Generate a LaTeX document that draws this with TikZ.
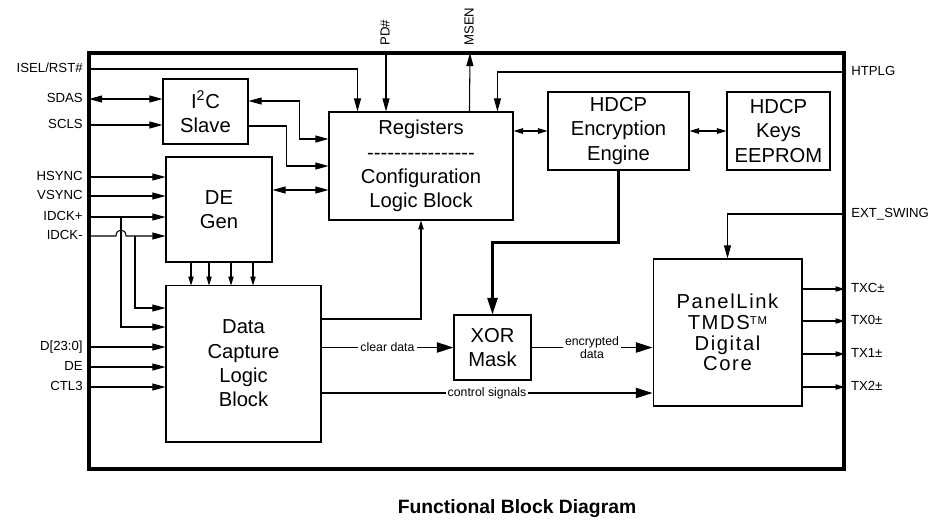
\documentclass[tikz,border=0pt]{standalone}
\usepackage{fontspec}
\setmainfont{Liberation Sans}[Ligatures=TeXOff]
\usetikzlibrary{arrows.meta, positioning}

\begin{document}
\begin{tikzpicture}[x=0.02cm, y=-0.02cm,
        blk/.style = {draw, line width=0.6pt, inner sep=0pt, align=center, font=\fontsize{11.5}{13.8}\selectfont},
        sig/.style = {inner sep=0pt, text height=5.6pt, text depth=1.4pt, font=\fontsize{7.5}{9}\selectfont},
        tag/.style = {fill=white, inner sep=1.2pt, align=center, font=\fontsize{7}{7.6}\selectfont},
        ar/.style  = {-{Triangle[length=7.5pt, width=4pt]}, line width=0.6pt},
        dar/.style = {{Triangle[length=7.5pt, width=4pt]}-{Triangle[length=7.5pt, width=4pt]}, line width=0.6pt},
        sar/.style = {-{Triangle[length=5pt, width=3pt]}, line width=0.6pt},
        dsar/.style = {{Triangle[length=5.5pt, width=3.2pt]}-{Triangle[length=5.5pt, width=3.2pt]}, line width=0.6pt},
        bar/.style = {-{Triangle[length=9.5pt, width=5.8pt]}, line width=1pt}
    ]
        \useasboundingbox (0,0) rectangle (935,522);

        % chip outline
        \node[draw, line width=1.8pt, inner sep=0pt, minimum width=15.1cm, minimum height=8.32cm] (chip) at (466.5,261) {};

        % blocks
        \node[blk, minimum width=1.7cm,  minimum height=1.3cm]  (i2c)  at (205.5,111.5) {I\textsuperscript{2}C\\Slave};
        \node[blk, minimum width=2.12cm, minimum height=2.1cm]  (de)   at (219,209.5)   {DE\\Gen};
        \node[blk, minimum width=3.68cm, minimum height=2.16cm] (reg)  at (421,166)     {Registers\\----------------\\Configuration\\Logic Block};
        \node[blk, minimum width=2.82cm, minimum height=1.56cm] (enc)  at (618.5,131)   {HDCP\\Encryption\\Engine};
        \node[blk, minimum width=2.06cm, minimum height=1.56cm] (keys) at (778.5,131)   {HDCP\\Keys\\EEPROM};
        \node[blk, minimum width=3.1cm,  minimum height=3.14cm] (dc)   at (243.5,363.5) {Data\\Capture\\Logic\\Block};
        \node[blk, minimum width=1.54cm, minimum height=1.3cm]  (xor)  at (492.5,347.5) {XOR\\Mask};
        \node[blk, minimum width=2.98cm, minimum height=2.94cm, font=\fontsize{11.5}{11.8}\selectfont\addfontfeatures{LetterSpace=8}]
            (core) at (727.5,332.5) {PanelLink\\TMDS\raisebox{0.42ex}{\fontsize{6.5}{6.5}\selectfont TM}\\Digital\\Core};

        % left pins
        \foreach \yy/\nm/\txt in {69/ISEL/{ISEL/RST\#}, 99/SDAS/SDAS, 125/SCLS/SCLS, 177/HSYNC/HSYNC, 196/VSYNC/VSYNC,
                217/IDCKp/IDCK+, 236/IDCKm/IDCK-, 347/D/{D[23:0]}, 367/DE/DE, 387/CTL/CTL3} {
            \coordinate (in\nm) at (89,\yy);
            \node[sig, anchor=east] (l\nm) at (83,\yy) {\txt};
        }

        % top and right pins
        \coordinate (inPD)    at (386,53);
        \coordinate (outMSEN) at (470,53);
        \coordinate (inHTPLG) at (844,72);
        \coordinate (inEXT)   at (844,214);
        \node[sig, rotate=90, anchor=west] (lPD)   at (386,46) {PD\#};
        \node[sig, rotate=90, anchor=west] (lMSEN) at (470,46) {MSEN};
        \node[sig, anchor=west] (lHTPLG) at (851,72)  {HTPLG};
        \node[sig, anchor=west] (lEXT)   at (851,214) {EXT\_SWING};

        % into registers
        \draw[ar] (inISEL) -| ([xshift=0.58cm]reg.north west);
        \draw[ar] (inPD) -- (inPD |- reg.north);
        \draw[ar] ([xshift=2.82cm]reg.north west) -- (outMSEN);
        \draw[ar] (inHTPLG) -| ([xshift=3.38cm]reg.north west);

        % I2C
        \draw[dar] (inSDAS) -- (inSDAS -| i2c.west);
        \draw[ar]  (inSCLS) -- (inSCLS -| i2c.west);
        \draw[dar] ([yshift=0.21cm]i2c.east) -- ++(51,0) |- ([yshift=0.54cm]reg.west);
        \draw[ar]  ([yshift=-0.29cm]i2c.east) -- ++(38,0) |- (reg.west);

        % DE gen
        \draw[dar] ([yshift=-0.48cm]reg.west) coordinate (dgr) -- (dgr -| de.east);
        \draw[ar] (inHSYNC) -- (inHSYNC -| de.west);
        \draw[ar] (inVSYNC) -- (inVSYNC -| de.west);
        \draw[ar] (inIDCKp) -- (inIDCKp -| de.west);
        \draw[ar] (inIDCKm) -- (116,236) .. controls (116,228) and (126,228) .. (126,236) -- (inIDCKm -| de.west);
        \coordinate (brP) at (121,217);
        \coordinate (brM) at (135,236);
        \draw[ar] (brP) |- ([yshift=0.73cm]dc.west);
        \draw[ar] (brM) |- ([yshift=1.11cm]dc.west);
        \foreach \dx in {-0.56,-0.2,0.24,0.68}
            \draw[sar] ([xshift=\dx cm]de.south) -- ++(0,23);

        % data capture
        \draw[ar] (inD)   -- (inD -| dc.west);
        \draw[ar] (inDE)  -- (inDE -| dc.west);
        \draw[ar] (inCTL) -- (inCTL -| dc.west);
        \draw[sar] ([yshift=0.89cm]dc.east) -| (reg.south);
        \draw[bar] (xor.west -| dc.east) -- node[tag] {clear data} (xor.west);
        \draw[bar] ([yshift=-0.59cm]dc.east) coordinate (cs) -- node[tag] {control signals} (cs -| core.west);

        % HDCP
        \draw[dsar] (enc.west -| reg.east) -- (enc.west);
        \draw[dsar] (enc.east) -- (keys.west);
        \draw[bar, line width=1.2pt] (enc.south) -- ++(0,72) -| (xor.north);
        \draw[bar] (xor.east) -- node[tag] {encrypted\\data} (xor.east -| core.west);

        % PanelLink core
        \draw[ar] (inEXT) -| (core.north);
        \foreach \dy/\nm/\txt in {0.87/TXC/TXC±, 0.23/TXa/TX0±, -0.43/TXb/TX1±, -1.09/TXc/TX2±}
            \draw[sar] ([yshift=\dy cm]core.east) -- ++(42,0) node[sig, anchor=west, xshift=0.12cm] (l\nm) {\txt};

        \node[font=\bfseries\fontsize{11}{13}\selectfont] (title) at (517,509) {Functional Block Diagram};
    \end{tikzpicture}
\end{document}
